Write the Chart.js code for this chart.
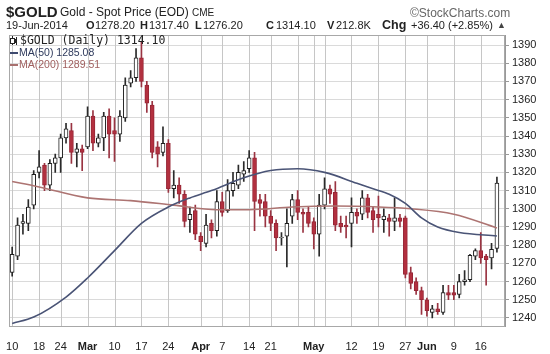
<!DOCTYPE html>
<html>
<head>
<meta charset="utf-8">
<script src="https://cdn.jsdelivr.net/npm/chart.js@4.4.1/dist/chart.umd.min.js"></script>
<style>
  body { margin: 0; background: #fff; }
  #wrap { position: relative; width: 550px; height: 354px; font-family: "Liberation Sans", Arial, sans-serif; color: #222; }
  canvas { position: absolute; left: 0; top: 0; }
  .t { position: absolute; white-space: nowrap; line-height: 1; }
  .b { font-weight: bold; }
  .hd { font-size: 11px; top: 20px; }
  .lg { font-size: 10.5px; }
  .dash { position: absolute; width: 8px; height: 2px; }
</style>
</head>
<body>
<div id="wrap">
  <canvas id="c" width="550" height="354"></canvas>

  <!-- header -->
  <div class="t b" style="left:6px;top:4px;font-size:15px;">$GOLD</div>
  <div class="t" style="left:60px;top:6px;font-size:12px;">Gold - Spot Price (EOD) <span style="font-size:10px;">CME</span></div>
  <div class="t" style="left:410px;top:7px;font-size:12px;color:#666;">&copy;StockCharts.com</div>

  <div class="t hd" style="left:6px;">19-Jun-2014</div>
  <div class="t hd b" style="left:86px;">O</div><div class="t hd" style="left:95px;">1278.20</div>
  <div class="t hd b" style="left:140px;">H</div><div class="t hd" style="left:149px;">1317.40</div>
  <div class="t hd b" style="left:195px;">L</div><div class="t hd" style="left:203px;">1276.20</div>
  <div class="t hd b" style="left:266px;">C</div><div class="t hd" style="left:276px;">1314.10</div>
  <div class="t hd b" style="left:327px;">V</div><div class="t hd" style="left:336px;">212.8K</div>
  <div class="t b" style="left:382px;top:19px;font-size:12.5px;">Chg</div><div class="t hd" style="left:411px;">+36.40 (+2.85%)</div>
  <div class="t" style="left:497px;top:21px;font-size:9px;color:#444;">&#9650;</div>

  <!-- legend inside plot -->
  <div style="position:absolute;left:12px;top:36px;width:1px;height:9px;background:#222;"></div>
  <div style="position:absolute;left:10px;top:38px;width:3px;height:4px;border:1px solid #222;background:#fff;"></div>
  <div style="position:absolute;left:16px;top:37px;width:1px;height:8px;background:#222;"></div>
  <div style="position:absolute;left:15px;top:39px;width:2px;height:4px;background:#222;"></div>
  <div class="t" style="left:20px;top:35px;font-family:'DejaVu Sans Mono',monospace;font-size:11.5px;color:#222;">$GOLD (Daily) 1314.10</div>
  <div class="dash" style="left:10px;top:52px;background:#3e4a6e;"></div>
  <div class="t lg" style="left:19px;top:47px;color:#2e3a5c;">MA(50) 1285.08</div>
  <div class="dash" style="left:10px;top:64px;background:#a8706e;"></div>
  <div class="t lg" style="left:19px;top:59px;color:#a0605f;">MA(200) 1289.51</div>
</div>

<script>
/* ── data ── */
const dates = [
  '2/10','2/11','2/12','2/13','2/14','2/18','2/19','2/20','2/21','2/24','2/25','2/26','2/27','2/28',
  '3/3','3/4','3/5','3/6','3/7','3/10','3/11','3/12','3/13','3/14','3/17','3/18','3/19','3/20','3/21',
  '3/24','3/25','3/26','3/27','3/28','3/31',
  '4/1','4/2','4/3','4/4','4/7','4/8','4/9','4/10','4/11','4/14','4/15','4/16','4/17',
  '4/21','4/22','4/23','4/24','4/25','4/28','4/29','4/30',
  '5/1','5/2','5/5','5/6','5/7','5/8','5/9','5/12','5/13','5/14','5/15','5/16',
  '5/19','5/20','5/21','5/22','5/23','5/27','5/28','5/29','5/30',
  '6/2','6/3','6/4','6/5','6/6','6/9','6/10','6/11','6/12','6/13','6/16','6/17','6/18','6/19'
];
const opens = [
  1265,1274,1292,1292,1302,1320,1324,1313,1325,1328,1339,1343,1331,1333,
  1334,1351,1336,1339,1351,1343,1341,1350,1369,1372,1383,1368,1357,1334,1331,
  1336,1311,1313,1308,1294,1299,
  1285,1281,1292,1288,1304,1299,1310,1313,1319,1322,1328,1305,1304,
  1296,1292,1284,1285,1296,1305,1298,1298,
  1293,1286,1302,1311,1309,1292,1291,1292,1298,1297,1306,1299,
  1297,1294,1295,1293,1295,1295,1265,1260,1255,
  1250,1243,1245,1243,1254,1254,1253,1260,1261,1274,1277,1274,1273,1278.2
];
const highs = [
  1279,1295,1297,1305,1321,1332,1325,1327,1330,1341,1347,1347,1336,1335,
  1356,1354,1341,1353,1355,1350,1354,1372,1376,1388,1392,1370,1359,1337,1345,
  1338,1321,1317,1310,1301,1302,
  1287,1297,1294,1310,1309,1316,1320,1324,1326,1332,1331,1308,1308,
  1299,1294,1287,1300,1308,1310,1300,1301,
  1295,1308,1317,1313,1315,1296,1296,1306,1300,1310,1308,1301,
  1307,1300,1297,1306,1297,1296,1268,1262,1257,
  1251,1247,1248,1258,1258,1258,1264,1266,1275,1278,1287,1275,1281,1317.4
];
const lows = [
  1263,1272,1286,1288,1300,1317,1310,1310,1320,1320,1336,1325,1323,1321,
  1333,1332,1334,1332,1328,1326,1337,1348,1367,1370,1367,1353,1328,1323,1329,
  1309,1306,1303,1290,1287,1283,
  1277,1279,1284,1285,1296,1298,1307,1311,1315,1320,1288,1296,1290,
  1288,1277,1280,1268,1292,1294,1287,1290,
  1278,1274,1300,1303,1288,1287,1284,1279,1292,1294,1295,1287,
  1290,1287,1285,1288,1290,1262,1256,1253,1242,
  1241,1240,1242,1242,1250,1250,1251,1258,1260,1272,1270,1258,1267,1276.2
];
const closes = [
  1275,1291,1293,1301,1319,1323,1313,1325,1328,1339,1344,1331,1333,1331,
  1351,1336,1339,1351,1341,1341,1351,1368,1372,1383,1370,1358,1331,1330,1336,
  1311,1313,1308,1293,1297,1286,
  1282,1291,1288,1304,1298,1310,1314,1320,1321,1328,1304,1303,1296,
  1292,1284,1284.5,1292,1305,1298,1297,1292,
  1286,1302,1311,1308,1291,1290,1290,1298,1296,1306,1298,1294,
  1295,1296,1293,1295,1293,1264,1259,1255,1250,
  1244,1245,1243.5,1254,1252.5,1252.5,1260,1261,1274.5,1277,1273,1272,1277.7,1314.1
];

// moving averages, read at a handful of dates
const ma50Dates = ['2/10','2/14','2/25','3/3','3/10','3/17','3/24','3/28','4/3','4/11','4/21','4/28','5/5','5/13','5/16','5/21','5/27','5/30','6/4','6/10','6/19'];
const ma50Vals  = [1237,1240.5,1251.5,1262,1277,1292,1301,1306,1310,1317,1321,1322,1320,1314,1311,1308,1303,1295,1290,1287,1285.08];
const ma200Dates = ['2/10','2/18','3/3','3/13','3/25','4/4','4/14','4/25','5/7','5/19','5/28','6/9','6/19'];
const ma200Vals  = [1315,1312,1306,1304.5,1302,1299.5,1299.5,1301,1301.5,1301,1300,1297,1289.51];

// axis labels
const tickDates = ['2/10','2/18','2/24','3/3','3/10','3/17','3/24','4/1','4/7','4/14','4/21','4/28','5/1','5/5','5/12','5/19','5/27','6/2','6/9','6/16'];
const tickNames = ['10','18','24','Mar','10','17','24','Apr','7','14','21','','May','','12','19','27','Jun','9','16'];
const yTicks = [1240,1250,1260,1270,1280,1290,1300,1310,1320,1330,1340,1350,1360,1370,1380,1390];

/* ── build ── */
const FONT = '"Liberation Sans", Arial, sans-serif';
const labels = dates.concat(['']);   // one empty slot keeps a gap before the price axis
const tickText = {};
tickDates.forEach((d, i) => { tickText[d] = tickNames[i]; });
const months = ['Mar','Apr','May','Jun'];

const up = opens.map((o, i) => closes[i] >= o);
const wicks  = lows.map((l, i) => [l, highs[i]]);
const bodies = opens.map((o, i) => [Math.min(o, closes[i]), Math.max(o, closes[i])]);

// plot frame + weekly vertical grid lines (placed through the x scale)
const frame = {
  id: 'frame',
  beforeDatasetsDraw(chart) {
    const a = chart.chartArea, ctx = chart.ctx, xs = chart.scales.x;
    ctx.save();
    ctx.lineWidth = 1;
    ctx.strokeStyle = '#c6c6c6';
    tickDates.forEach(d => {
      const px = Math.round(xs.getPixelForValue(labels.indexOf(d))) + 0.5;
      ctx.beginPath();
      ctx.moveTo(px, a.top);
      ctx.lineTo(px, a.bottom);
      ctx.stroke();
    });
    ctx.strokeStyle = '#a8a8a8';
    ctx.strokeRect(Math.round(a.left) + 0.5, Math.round(a.top) + 0.5,
                   Math.round(a.right - a.left) - 1, Math.round(a.bottom - a.top));
    ctx.restore();
  }
};

new Chart(document.getElementById('c'), {
  type: 'bar',
  data: {
    labels: labels,
    datasets: [
      { type: 'line', data: ma50Dates.map((d, i) => ({ x: d, y: ma50Vals[i] })),
        borderColor: '#4a5476', borderWidth: 1.6, pointRadius: 0,
        cubicInterpolationMode: 'monotone', order: 0 },
      { type: 'line', data: ma200Dates.map((d, i) => ({ x: d, y: ma200Vals[i] })),
        borderColor: '#ad7472', borderWidth: 1.6, pointRadius: 0,
        cubicInterpolationMode: 'monotone', order: 0 },
      { data: bodies, grouped: false, barThickness: 4, borderWidth: 1, borderSkipped: false,
        backgroundColor: up.map(u => u ? '#ffffff' : '#b3303f'),
        borderColor: up.map(u => u ? '#1e1e1e' : '#962636'), order: 1 },
      { data: wicks, grouped: false, barThickness: 1, borderWidth: 0,
        backgroundColor: up.map(u => u ? '#2a2a2a' : '#9a3442'), order: 2 }
    ]
  },
  options: {
    responsive: false,
    animation: false,
    layout: { padding: { top: 35, left: 9, right: 0, bottom: 0 } },
    plugins: { legend: { display: false }, tooltip: { enabled: false } },
    scales: {
      x: {
        offset: true,
        afterBuildTicks: s => { s.ticks = tickDates.map(d => ({ value: labels.indexOf(d) })); },
        grid: { display: false },
        border: { color: '#999' },
        ticks: {
          autoSkip: false, maxRotation: 0, padding: 6, color: '#222',
          font: ctx => ({ family: FONT, size: 11,
            weight: (ctx.tick && months.includes(tickText[labels[ctx.tick.value]])) ? 'bold' : 'normal' }),
          callback: v => tickText[labels[v]] || ''
        },
        afterFit: s => { s.height = 28; }
      },
      y: {
        position: 'right',
        min: 1235.6, max: 1395.5,
        afterBuildTicks: s => { s.ticks = yTicks.map(v => ({ value: v })); },
        grid: { color: '#dadada', tickLength: 4, tickColor: '#999' },
        border: { color: '#999' },
        ticks: { color: '#222', padding: 3, font: { family: FONT, size: 11 },
                 callback: v => String(v) },
        afterFit: s => { s.width = 45; }
      }
    }
  },
  plugins: [frame]
});
</script>
</body>
</html>
